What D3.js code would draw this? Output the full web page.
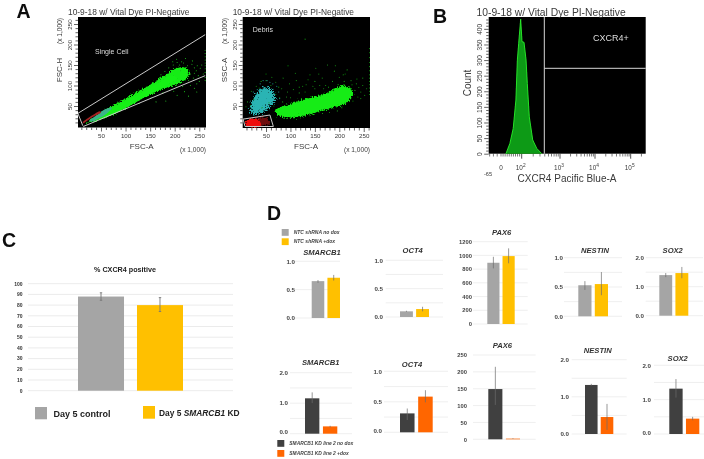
<!DOCTYPE html>
<html><head><meta charset="utf-8">
<script src="https://cdn.jsdelivr.net/npm/d3@7"></script>
<style>html,body{margin:0;padding:0;background:#fff}svg{display:block}
text{font-family:"Liberation Sans",Arial,sans-serif}</style></head><body>
<svg id="c" width="704" height="459"></svg>
<script>
// ---------- flow cytometry data (data units) ----------
const flowTitle = "10-9-18 w/ Vital Dye PI-Negative";
const flowTicks = [50,100,150,200,250];
const singleBand = [[14,4],[40,26],[62,44],[90,63],[116,81],[145,100],[170,118],[190,134],[204,143],[220,146],[231,138],[228,120],[210,104],[184,94],[160,82],[136,68],[108,49],[82,32],[58,20],[41,12],[24,5]];
const singleCore = [[30,15],[62,36],[100,62],[136,84],[170,108],[195,124],[205,118],[184,102],[150,79],[118,57],[80,33],[50,18]];
const singleCyan = [[26,14],[42,28],[58,42],[72,46],[62,32],[46,20],[32,12]];
const singleRed = [[13,11],[24,21],[36,30],[48,37],[50,34],[36,25],[22,14],[14,8]];
const gateUpper = [[3,32],[262,224]];
const gateLower = [[14,0],[262,124]];
const gateLeft = [[3,32],[13,2]];
const singleDots = [[210,150],[218,155],[226,148],[235,152],[240,143],[232,128],[244,136],[252,142],[258,128],[248,124],[238,118],[228,112],[214,158],[205,156],[197,150],[188,143],[180,134],[172,126],[240,130],[255,150],[262,186],[262,178],[262,170],[262,162],[262,155],[262,148],[262,141],[262,132],[262,120],[262,112],[250,110],[245,104],[232,100],[216,98],[198,86],[176,82],[152,70],[128,56],[236,160],[222,166],[246,148],[212,136],[226,130],[204,164],[196,158],[240,93],[220,85],[205,76],[182,62],[162,60],[245,84],[228,74]];
const debrisGreen = [[65,40],[92,52],[133,69],[174,81],[208,101],[229,85],[219,60],[181,44],[147,32],[113,22],[85.5,22],[68,32]];
const debrisCyan = [[14,28],[24,77],[48,101],[68,89],[72,60],[51,36],[31,24]];
const debrisRed = [[3,18],[58,28],[65,0],[7,0]];
const debrisRedCore = [[8,14],[26,20],[38,14],[40,0],[10,0]];
const debrisRedOuter = [[8,16],[40,24],[56,24],[60,2],[10,2]];
const debrisDots = [[85,118],[98,104],[110,130],[125,98],[140,126],[150,110],[165,118],[178,96],[190,135],[200,120],[212,128],[224,112],[235,104],[248,118],[256,92],[244,84],[238,72],[228,62],[214,58],[205,46],[196,38],[180,34],[172,100],[160,100],[146,98],[132,102],[118,96],[106,90],[94,84],[82,92],[70,108],[62,120],[50,128],[40,110],[30,98],[20,86],[12,60],[9,48],[76,96],[92,72],[100,70],[118,82],[130,84],[150,92],[168,92],[186,110],[198,102],[210,110],[222,94],[232,88],[244,68],[252,76],[262,78],[262,86],[262,94],[262,102],[262,110],[262,118],[262,126],[262,136],[262,146],[262,156],[262,168],[262,180],[262,190],[130,213],[95,148],[152,142],[176,150],[112,112],[136,114],[158,128],[192,148],[216,138],[240,95],[50,112],[36,94],[60,100],[25,66],[18,52],[70,78],[78,70],[84,60],[56,58],[42,46],[66,50],[208,126],[226,102],[236,116],[248,100]];
const debrisCyanDots = [[14,44],[18,62],[24,84],[32,90],[38,104],[44,112],[52,112],[58,108],[64,104],[72,98],[76,84],[78,68],[34,70],[46,94]];

const histTicksY = [0,50,100,150,200,250,300,350,400];
const histX = [24,43,59,72,79,85.5,95,102,115,130,140,158,194,247,334];
const histCount = [0,33,81,172,300,354,431,359,357,300,225,118,44,17,0];
const histXLabels = [[0,"0"],[100,"10","2"],[1000,"10","3"],[10000,"10","4"],[100000,"10","5"]];
const histDecades = [100,1000,10000,100000];
const histMinorLow = [-60,-40,-20,0,10,20,30,40,50,60,70,80,90];
const histMinorMult = [2,3,4,5,6,7,8,9];

// ---------- panel C ----------
const cTicks = [0,10,20,30,40,50,60,70,80,90,100];
const cCats = ["Day 5 control","Day 5 SMARCB1 KD"];
const cValues = [88,80];
const cLow = [84.5,74];
const cHigh = [91.5,87];

// ---------- panel D ----------
const genes = ["SMARCB1","OCT4","PAX6","NESTIN","SOX2"];
const ntcNoDox = [0.65,0.10,893,0.53,1.40];
const ntcDox = [0.71,0.14,990,0.55,1.47];
const ntcNoDoxLow = [0.62,0.09,810,0.45,1.33];
const ntcNoDoxHigh = [0.67,0.11,980,0.60,1.47];
const ntcDoxLow = [0.66,0.10,885,0.36,1.29];
const ntcDoxHigh = [0.76,0.18,1103,0.755,1.68];
const kdNoDox = [1.16,0.31,149,1.32,1.32];
const kdDox = [0.24,0.585,2,0.457,0.447];
const kdNoDoxLow = [1.0,0.2,102,1.30,1.06];
const kdNoDoxHigh = [1.355,0.39,215,1.35,1.6];
const kdDoxLow = [0.21,0.49,1,0.11,0.40];
const kdDoxHigh = [0.26,0.69,3,0.81,0.5];
const ntcLabels = [[0,0.5,1],[0,0.5,1],[0,200,400,600,800,1000,1200],[0,0.5,1],[0,1,2]];
const kdLabels = [[0,1,2],[0,0.5,1],[0,50,100,150,200,250],[0,1,2],[0,1,2]];
const ntcGrid = [[0,0.5,1],[0,0.25,0.5,0.75,1],[0,200,400,600,800,1000,1200],[0,0.25,0.5,0.75,1],[0,0.5,1,1.5,2]];
const kdGrid = [[0,0.5,1,1.5,2],[0,0.25,0.5,0.75,1],[0,50,100,150,200,250],[0,0.5,1,1.5,2],[0,0.5,1,1.5,2]];
const ntcLegend = ["NTC shRNA no dox","NTC shRNA +dox"];
const kdLegend = ["SMARCB1 KD line 2 no dox","SMARCB1 KD line 2 +dox"];
const letters = ["A","B","C","D"];

// ---------- layout ----------
const svg = d3.select("#c");
const INK = "#3a3a3a";
const defs = svg.append("defs");
defs.append("filter").attr("id","soft").append("feGaussianBlur").attr("stdDeviation",0.35);

// point-cloud look: blurred shape alpha + fine noise, thresholded, flooded with a colour
function speckle(id,color,blur,seed,bias){
  const f = defs.append("filter").attr("id",id).attr("x","-40%").attr("y","-40%").attr("width","180%").attr("height","180%")
    .attr("color-interpolation-filters","sRGB");
  f.append("feGaussianBlur").attr("in","SourceAlpha").attr("stdDeviation",blur).attr("result","b");
  f.append("feTurbulence").attr("type","fractalNoise").attr("baseFrequency",0.75).attr("numOctaves",2).attr("seed",seed).attr("result","t");
  f.append("feColorMatrix").attr("in","t").attr("type","matrix").attr("values","0 0 0 0 0  0 0 0 0 0  0 0 0 0 0  1 0 0 0 0").attr("result","n");
  f.append("feComposite").attr("in","b").attr("in2","n").attr("operator","arithmetic").attr("k1",0).attr("k2",1).attr("k3",1).attr("k4",-1-bias).attr("result","m");
  const ct = f.append("feComponentTransfer").attr("in","m").attr("result","mask");
  ct.append("feFuncA").attr("type","linear").attr("slope",7).attr("intercept",0);
  f.append("feFlood").attr("flood-color",color).attr("result","fl");
  f.append("feComposite").attr("in","fl").attr("in2","mask").attr("operator","in");
}
speckle("spGreen","#12ec12",2.2,4,0);
speckle("spGreenWide","#12d812",4,7,0.02);
speckle("spCyan","#2ab4b4",3,11,0.12);
speckle("spRed","#ee1010",1.6,5,0);
speckle("spDarkRed","#6e1010",2,9,0);

const root = svg.append("g").attr("filter","url(#soft)");

const letterPos = [[16.5,17.7],[433,23],[2,247],[267,220]];
root.selectAll("text.letter").data(letters).join("text").attr("class","letter")
  .attr("x",(d,i)=>letterPos[i][0]).attr("y",(d,i)=>letterPos[i][1])
  .attr("font-size",19.5).attr("font-weight","bold").attr("fill","#111").text(d=>d);

function flowFrame(o){
  const g = root.append("g");
  const x = d3.scaleLinear().domain([0,262]).range([o.x0,o.x0+262*o.kx]);
  const y = d3.scaleLinear().domain([0,266]).range([o.y0,o.y0-266*0.41]);
  g.append("rect").attr("x",o.left).attr("y",17).attr("width",o.right-o.left).attr("height",o.bottom-17).attr("fill","#000");
  g.append("text").attr("x",o.left-10).attr("y",15).attr("font-size",8.4).attr("fill",INK).text(flowTitle);
  const fmt = d=>flowTicks.includes(d)?d:"";
  const minor = d3.range(10,261,10);
  const ax = g.append("g").attr("transform",`translate(0,${o.bottom})`)
    .call(d3.axisBottom(x).tickValues(minor).tickFormat(fmt).tickSizeOuter(0));
  ax.select(".domain").remove();
  ax.selectAll("line").attr("y2",d=>flowTicks.includes(d)?4:2.5).attr("stroke","#222").attr("stroke-width",0.7);
  ax.selectAll("text").attr("y",6).attr("font-size",6.2).attr("font-family","Liberation Sans").attr("fill",INK);
  const ay = g.append("g").attr("transform",`translate(${o.left},0)`)
    .call(d3.axisLeft(y).tickValues(minor).tickFormat(fmt).tickSizeOuter(0));
  ay.select(".domain").remove();
  ay.selectAll("line").attr("x2",d=>flowTicks.includes(d)?-4:-2.5).attr("stroke","#222").attr("stroke-width",0.7);
  ay.selectAll("text").attr("transform",`rotate(-90)`).attr("x",0).attr("y",-6).attr("text-anchor","middle")
    .attr("dy",0).attr("font-size",6.2).attr("font-family","Liberation Sans").attr("fill",INK);
  const lab=(t,xx,yy,s,rot,anchor)=>g.append("text").attr("transform",`translate(${xx},${yy})${rot?" rotate(-90)":""}`)
    .attr("text-anchor",anchor||"middle").attr("font-size",s).attr("fill",INK).text(t);
  lab("FSC-A",o.xTitleX,149,8);
  lab("(x 1,000)",o.right,152,6.6,false,"end");
  lab(o.yTitle,o.yTitleX+2,70,8,true);
  lab("(x 1,000)",o.yTitleX+2,31,6.6,true);
  g.append("text").attr("x",o.noteX).attr("y",o.noteY).attr("font-size",7).attr("fill","#ddd").text(o.note);
  const clipId="clip"+Math.round(o.left);
  defs.append("clipPath").attr("id",clipId).append("rect").attr("x",o.left).attr("y",17).attr("width",o.right-o.left).attr("height",o.bottom-17);
  const plot = g.append("g").attr("clip-path",`url(#${clipId})`);
  return {x,y,plot};
}
const blob=(x,y)=>d3.line().x(d=>x(d[0])).y(d=>y(d[1])).curve(d3.curveCatmullRomClosed.alpha(0.5));
const poly=(x,y)=>d3.line().x(d=>x(d[0])).y(d=>y(d[1]));
const dots=(p,x,y,data,color,r)=>p.append("g").selectAll("circle").data(data).join("circle")
  .attr("cx",d=>x(d[0])).attr("cy",d=>y(d[1])).attr("r",r||0.55).attr("fill",color);

// A left
{
  const {x,y,plot} = flowFrame({left:78,right:206,bottom:127.5,x0:76.4,kx:0.4915,y0:126.5,yTitle:"FSC-H",yTitleX:60,xTitleX:141.7,note:"Single Cell",noteX:95,noteY:53.5});
  plot.append("path").attr("d",blob(x,y)(singleBand)).attr("filter","url(#spGreen)");
  plot.append("path").attr("d",blob(x,y)(singleCore)).attr("fill","#18f018");
  plot.append("path").attr("d",blob(x,y)(singleCyan)).attr("fill","#3bb38a");
  plot.append("path").attr("d",blob(x,y)(singleRed)).attr("fill","#a32020");
  dots(plot,x,y,singleDots,"#1fb81f");
  for(const seg of [gateUpper,gateLower,gateLeft])
    plot.append("path").attr("d",poly(x,y)(seg)).attr("fill","none").attr("stroke","#c9c9c9").attr("stroke-width",1);
}
// A right
{
  const {x,y,plot} = flowFrame({left:242.7,right:370,bottom:128,x0:241.6,kx:0.4885,y0:126.5,yTitle:"SSC-A",yTitleX:225,xTitleX:306,note:"Debris",noteX:252.7,noteY:32});
  plot.append("path").attr("d",blob(x,y)(debrisCyan)).attr("filter","url(#spCyan)");
  dots(plot,x,y,debrisDots,"#159a15");
  dots(plot,x,y,debrisCyanDots,"#1fa0a0");
  plot.append("path").attr("d",blob(x,y)(debrisGreen)).attr("filter","url(#spGreenWide)");
  plot.append("path").attr("d",blob(x,y)(debrisGreen)).attr("filter","url(#spGreen)");
  plot.append("path").attr("d",poly(x,y)(debrisRedOuter)+"Z").attr("filter","url(#spDarkRed)");
  plot.append("path").attr("d",blob(x,y)(debrisRedCore)).attr("filter","url(#spRed)");
  plot.append("path").attr("d",poly(x,y)(debrisRed)+"Z").attr("fill","none").attr("stroke","#c9c9c9").attr("stroke-width",1);
}
// B
{
  const g = root.append("g");
  const biex = v=> v<=100 ? v/100 : Math.log10(v)-1;
  const pos = d3.scaleLinear().domain([-0.65,0,1,2,3,4,4.42]).range([488.7,501,521.7,560,595,630.7,645.7]);
  const x = v=>pos(biex(v));
  const y = d3.scaleLinear().domain([0,438]).range([153.7,17]);
  const L=488.7,R=645.7,B=153.7,T=17;
  g.append("rect").attr("x",L).attr("y",T).attr("width",R-L).attr("height",B-T).attr("fill","#000");
  g.append("text").attr("x",476.5).attr("y",15.5).attr("font-size",10.3).attr("fill",INK).text(flowTitle);
  const yAxis = g.append("g").attr("transform",`translate(${L},0)`).call(d3.axisLeft(y).tickValues(d3.range(0,431,10)).tickFormat(d=>histTicksY.includes(d)?d:"").tickSizeOuter(0));
  yAxis.select(".domain").remove();
  yAxis.selectAll("line").attr("x2",d=>histTicksY.includes(d)?-4.5:-2.5).attr("stroke","#222").attr("stroke-width",0.7);
  yAxis.selectAll("text").attr("transform","rotate(-90)").attr("x",0).attr("y",-7).attr("dy",0).attr("text-anchor","middle").attr("font-size",6.6).attr("font-family","Liberation Sans").attr("fill",INK);
  const minorX = histMinorLow.concat(...histDecades.map(d=>histMinorMult.map(m=>d*m))).filter(v=>v<=262144);
  g.append("g").selectAll("line").data(minorX).join("line").attr("x1",x).attr("x2",x).attr("y1",B).attr("y2",B+2.8).attr("stroke","#222").attr("stroke-width",0.6);
  g.append("g").selectAll("line").data(histDecades).join("line").attr("x1",x).attr("x2",x).attr("y1",B).attr("y2",B+5).attr("stroke","#222").attr("stroke-width",0.8);
  const lbl = g.append("g").selectAll("text").data(histXLabels).join("text").attr("x",d=>x(d[0])-(d[2]?1:0)).attr("y",170).attr("text-anchor","middle").attr("font-size",6.4).attr("fill",INK);
  lbl.append("tspan").text(d=>d[1]);
  lbl.filter(d=>d[2]).append("tspan").attr("dy",-3).attr("font-size",4.8).text(d=>d[2]);
  g.append("text").attr("x",488).attr("y",176).attr("text-anchor","middle").attr("font-size",5.6).attr("fill",INK).text("-65");
  g.append("text").attr("x",567).attr("y",182).attr("text-anchor","middle").attr("font-size",10).attr("fill",INK).text("CXCR4 Pacific Blue-A");
  g.append("text").attr("transform","translate(470.5,83) rotate(-90)").attr("text-anchor","middle").attr("font-size",10).attr("fill",INK).text("Count");
  const area = d3.area().x((d,i)=>x(histX[i])).y0(y(0)).y1(d=>y(d));
  g.append("path").attr("d",area(histCount)).attr("fill","#0a9a16");
  g.append("path").attr("d",d3.line().x((d,i)=>x(histX[i])).y(d=>y(d))(histCount)).attr("fill","none").attr("stroke","#2bf02b").attr("stroke-width",0.9);
  g.append("line").attr("x1",544.3).attr("x2",544.3).attr("y1",T).attr("y2",B).attr("stroke","#d8d8d8").attr("stroke-width",1);
  g.append("line").attr("x1",544.3).attr("x2",R).attr("y1",68.3).attr("y2",68.3).attr("stroke","#d8d8d8").attr("stroke-width",1);
  g.append("text").attr("x",593).attr("y",41).attr("font-size",9).attr("fill","#ddd").text("CXCR4+");
}
// C
{
  const g = root.append("g").style("font-family","'Open Sans'");
  const y = d3.scaleLinear().domain([0,100]).range([390.7,283.7]);
  const x = d3.scaleBand().domain(cCats).range([78,183]).paddingInner(0.22);
  g.append("g").selectAll("line").data(cTicks).join("line").attr("x1",28).attr("x2",233).attr("y1",y).attr("y2",y).attr("stroke","#e6e6e6").attr("stroke-width",0.8);
  g.append("g").selectAll("text").data(cTicks).join("text").attr("x",22.5).attr("y",d=>y(d)+1.8).attr("text-anchor","end").attr("font-size",5).attr("font-weight","bold").attr("font-family","Open Sans").attr("fill","#333").text(d=>d);
  const cCol=["#a5a5a5","#ffc000"];
  g.append("g").selectAll("rect").data(cCats).join("rect").attr("x",d=>x(d)).attr("width",x.bandwidth()).attr("y",(d,i)=>y(cValues[i])).attr("height",(d,i)=>y(0)-y(cValues[i])).attr("fill",(d,i)=>cCol[i]);
  const eb=g.append("g").selectAll("g").data(cCats).join("g").attr("stroke","#777").attr("stroke-width",0.9);
  eb.append("line").attr("x1",d=>x(d)+x.bandwidth()/2).attr("x2",d=>x(d)+x.bandwidth()/2).attr("y1",(d,i)=>y(cLow[i])).attr("y2",(d,i)=>y(cHigh[i]));
  eb.append("line").attr("x1",d=>x(d)+x.bandwidth()/2-1.2).attr("x2",d=>x(d)+x.bandwidth()/2+1.2).attr("y1",(d,i)=>y(cHigh[i])).attr("y2",(d,i)=>y(cHigh[i]));
  eb.append("line").attr("x1",d=>x(d)+x.bandwidth()/2-1.2).attr("x2",d=>x(d)+x.bandwidth()/2+1.2).attr("y1",(d,i)=>y(cLow[i])).attr("y2",(d,i)=>y(cLow[i]));
  g.append("text").attr("x",125).attr("y",271.5).attr("text-anchor","middle").attr("font-size",7.2).attr("font-weight","bold").attr("font-family","Open Sans").attr("fill","#222").text("% CXCR4 positive");
  g.append("rect").attr("x",35).attr("y",407).attr("width",12).attr("height",12.3).attr("fill",cCol[0]);
  g.append("rect").attr("x",143).attr("y",406).attr("width",12).attr("height",12.7).attr("fill",cCol[1]);
  g.append("text").attr("x",53.5).attr("y",417).attr("font-size",9).attr("font-weight","bold").attr("font-family","Open Sans").attr("fill","#222").text(cCats[0]);
  const t=g.append("text").attr("x",159).attr("y",415.5).attr("font-size",8.4).attr("font-weight","bold").attr("font-family","Open Sans").attr("fill","#222");
  t.append("tspan").text("Day 5 ");
  t.append("tspan").attr("font-style","italic").text("SMARCB1");
  t.append("tspan").text(" KD");
}
// D
const topLayout = [
 {gx:[295,340],y0:318,yTop:261.3,bars:[311.7,340],labelX:295,titleX:322,titleY:254.5,max:1},
 {gx:[385.7,443],y0:317,yTop:260.3,bars:[400,429],labelX:383,titleX:412.7,titleY:252.5,max:1},
 {gx:[473,527.7],y0:324,yTop:241.7,bars:[487.3,514.7],labelX:472,titleX:501.7,titleY:234.5,max:1200},
 {gx:[564,622],y0:316.3,yTop:257.7,bars:[578.3,608],labelX:563,titleX:595,titleY:252.5,max:1},
 {gx:[645.7,703],y0:315.7,yTop:257.7,bars:[659.3,688.3],labelX:644,titleX:672.7,titleY:252.5,max:2}];
const botLayout = [
 {gx:[290,352],y0:433.7,yTop:372.7,bars:[305,337.3],labelX:288,titleX:320.7,titleY:364.5,max:2,zeroDy:-2},
 {gx:[384,448],y0:432.3,yTop:371.3,bars:[400,432.7],labelX:382,titleX:412,titleY:367,max:1,zeroDy:-1.5},
 {gx:[473,535.7],y0:439.3,yTop:355,bars:[488.3,520],labelX:467,titleX:502.3,titleY:348,max:250},
 {gx:[571.7,626.7],y0:434,yTop:359.7,bars:[585,613.3],labelX:569,titleX:597.7,titleY:353,max:2},
 {gx:[654,704],y0:434,yTop:365.3,bars:[669.3,699.3],labelX:651,titleX:677.7,titleY:360.5,max:2,zeroDy:-1.5}];
function barPanel(l,gene,vals,lows,highs,labels,grid,colors){
  const g = root.append("g");
  const y = d3.scaleLinear().domain([0,l.max]).range([l.y0,l.yTop]);
  const x = d3.scaleBand().domain([0,1]).range(l.bars).paddingInner(0.2);
  g.append("g").selectAll("line").data(grid).join("line").attr("x1",l.gx[0]).attr("x2",l.gx[1]).attr("y1",y).attr("y2",y).attr("stroke","#ebebeb").attr("stroke-width",0.8);
  const fmt = l.max>=100? d=>d : d3.format(".1f");
  g.append("g").selectAll("text").data(labels).join("text").attr("x",l.labelX).attr("y",d=>y(d)+2.2+(d===0&&l.zeroDy?l.zeroDy:0)).attr("text-anchor","end").attr("font-size",l.max>=100?5.8:6.2).attr("font-weight","bold").attr("fill","#444").text(fmt);
  g.append("text").attr("x",l.titleX).attr("y",l.titleY).attr("text-anchor","middle").attr("font-size",7.6).attr("font-weight","bold").attr("font-style","italic").attr("fill","#333").text(gene);
  g.append("g").selectAll("rect").data(vals).join("rect").attr("x",(d,i)=>x(i)).attr("width",x.bandwidth()).attr("y",d=>y(d)).attr("height",d=>y(0)-y(d)).attr("fill",(d,i)=>colors[i]);
  g.append("g").selectAll("line").data(vals).join("line").attr("x1",(d,i)=>x(i)+x.bandwidth()/2).attr("x2",(d,i)=>x(i)+x.bandwidth()/2).attr("y1",(d,i)=>y(lows[i])).attr("y2",(d,i)=>y(highs[i])).attr("stroke","#6b6b6b").attr("stroke-width",0.7);
}
genes.forEach((gene,i)=>{
  barPanel(topLayout[i],gene,[ntcNoDox[i],ntcDox[i]],[ntcNoDoxLow[i],ntcDoxLow[i]],[ntcNoDoxHigh[i],ntcDoxHigh[i]],ntcLabels[i],ntcGrid[i],["#a5a5a5","#ffc000"]);
  barPanel(botLayout[i],gene,[kdNoDox[i],kdDox[i]],[kdNoDoxLow[i],kdDoxLow[i]],[kdNoDoxHigh[i],kdDoxHigh[i]],kdLabels[i],kdGrid[i],["#404040","#ff6600"]);
});
function legend(names,colors,sx,tx,ys,fs){
  names.forEach((n,i)=>{
    root.append("rect").attr("x",sx).attr("y",ys[i]).attr("width",7).attr("height",6.8).attr("fill",colors[i]);
    root.append("text").attr("x",tx).attr("y",ys[i]+5).attr("font-size",fs).attr("font-weight","bold").attr("font-style","italic").attr("fill","#444").text(n);
  });
}
legend(ntcLegend,["#a5a5a5","#ffc000"],281.7,293.7,[229,238.3],5);
legend(kdLegend,["#404040","#ff6600"],277.3,289.3,[440,450],4.9);
</script></body></html>
